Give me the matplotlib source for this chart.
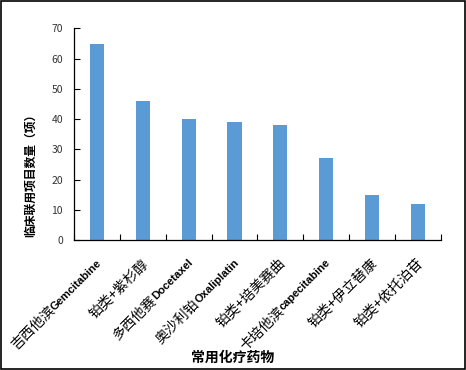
import re
import math
import matplotlib
matplotlib.use("Agg")
import matplotlib.pyplot as plt
from matplotlib.patches import Rectangle
import matplotlib.transforms as mtransforms

plt.rcParams['font.family'] = ['Noto Sans CJK SC', 'DejaVu Sans']

categories = ["吉西他滨Gemcitabine", "铂类+紫杉醇", "多西他赛Docetaxel", "奥沙利铂Oxaliplatin",
              "铂类+培美赛曲", "卡培他滨capecitabine", "铂类+伊立替康", "铂类+依托泊苷"]
values = [65, 46, 40, 39, 38, 27, 15, 12]
yticks = [0, 10, 20, 30, 40, 50, 60, 70]

fig = plt.figure(figsize=(4.66, 3.70), dpi=100)
ax = fig.add_axes([0.159, 0.351, 0.787, 0.572])

x = list(range(len(categories)))
ax.bar(x, values, width=0.31, color="#5B9BD5", zorder=2)

ax.set_xlim(-0.5, len(categories) - 0.5)
ax.set_ylim(0, 70)
ax.set_yticks(yticks)
ax.set_yticklabels([str(v) for v in yticks], fontsize=7.5, color="#333333")
ax.tick_params(axis='y', direction='in', length=4, width=0.8, pad=8)

# x ticks at category boundaries
ax.set_xticks([i + 0.5 for i in range(-1, len(categories))])
ax.set_xticklabels([])
ax.tick_params(axis='x', direction='in', length=4, width=0.8)

renderer = fig.canvas.get_renderer()
base = ax.get_xaxis_transform()
c45 = math.cos(math.radians(45))
dx0, dy0 = 3.0, -21.0  # pixels
cjk_size, lat_size = 10, 8
lat_font = dict(fontsize=lat_size, family='Liberation Sans', fontweight='bold')
for xi, lab in zip(x, categories):
    m = re.match(r'^(.*?)([A-Za-z]+)$', lab)
    if m:
        cjk, lat = m.group(1), m.group(2)
    else:
        cjk, lat = lab, ""
    w = 0.0
    if lat:
        off = mtransforms.ScaledTranslation(dx0 / 100, dy0 / 100, fig.dpi_scale_trans)
        ax.text(xi, 0, lat, transform=base + off, rotation=45, ha='right', va='center',
                rotation_mode='anchor', clip_on=False, **lat_font)
        tmp = fig.text(0, 0, lat, **lat_font)
        w = tmp.get_window_extent(renderer).width
        tmp.remove()
    off2 = mtransforms.ScaledTranslation((dx0 - w * c45) / 100, (dy0 - w * c45) / 100,
                                         fig.dpi_scale_trans)
    ax.text(xi, 0, cjk, transform=base + off2, rotation=45, ha='right', va='center',
            rotation_mode='anchor', fontsize=cjk_size, clip_on=False)

for s in ['top', 'right']:
    ax.spines[s].set_visible(False)
for s in ['left', 'bottom']:
    ax.spines[s].set_linewidth(0.9)
    ax.spines[s].set_color('black')

fig.text(30 / 466, 1 - 172 / 370, "临床联用项目数量（项）", fontsize=8.5, fontweight='bold',
         rotation=90, ha='center', va='center')
fig.text(0.5, 1 - 358 / 370, "常用化疗药物", fontsize=10, fontweight='bold', ha='center', va='center')

fig.patches.append(Rectangle((0.002, 0.003), 0.995, 0.993, transform=fig.transFigure,
                             fill=False, edgecolor='black', linewidth=1.2))

fig.savefig("out.png", dpi=100)
